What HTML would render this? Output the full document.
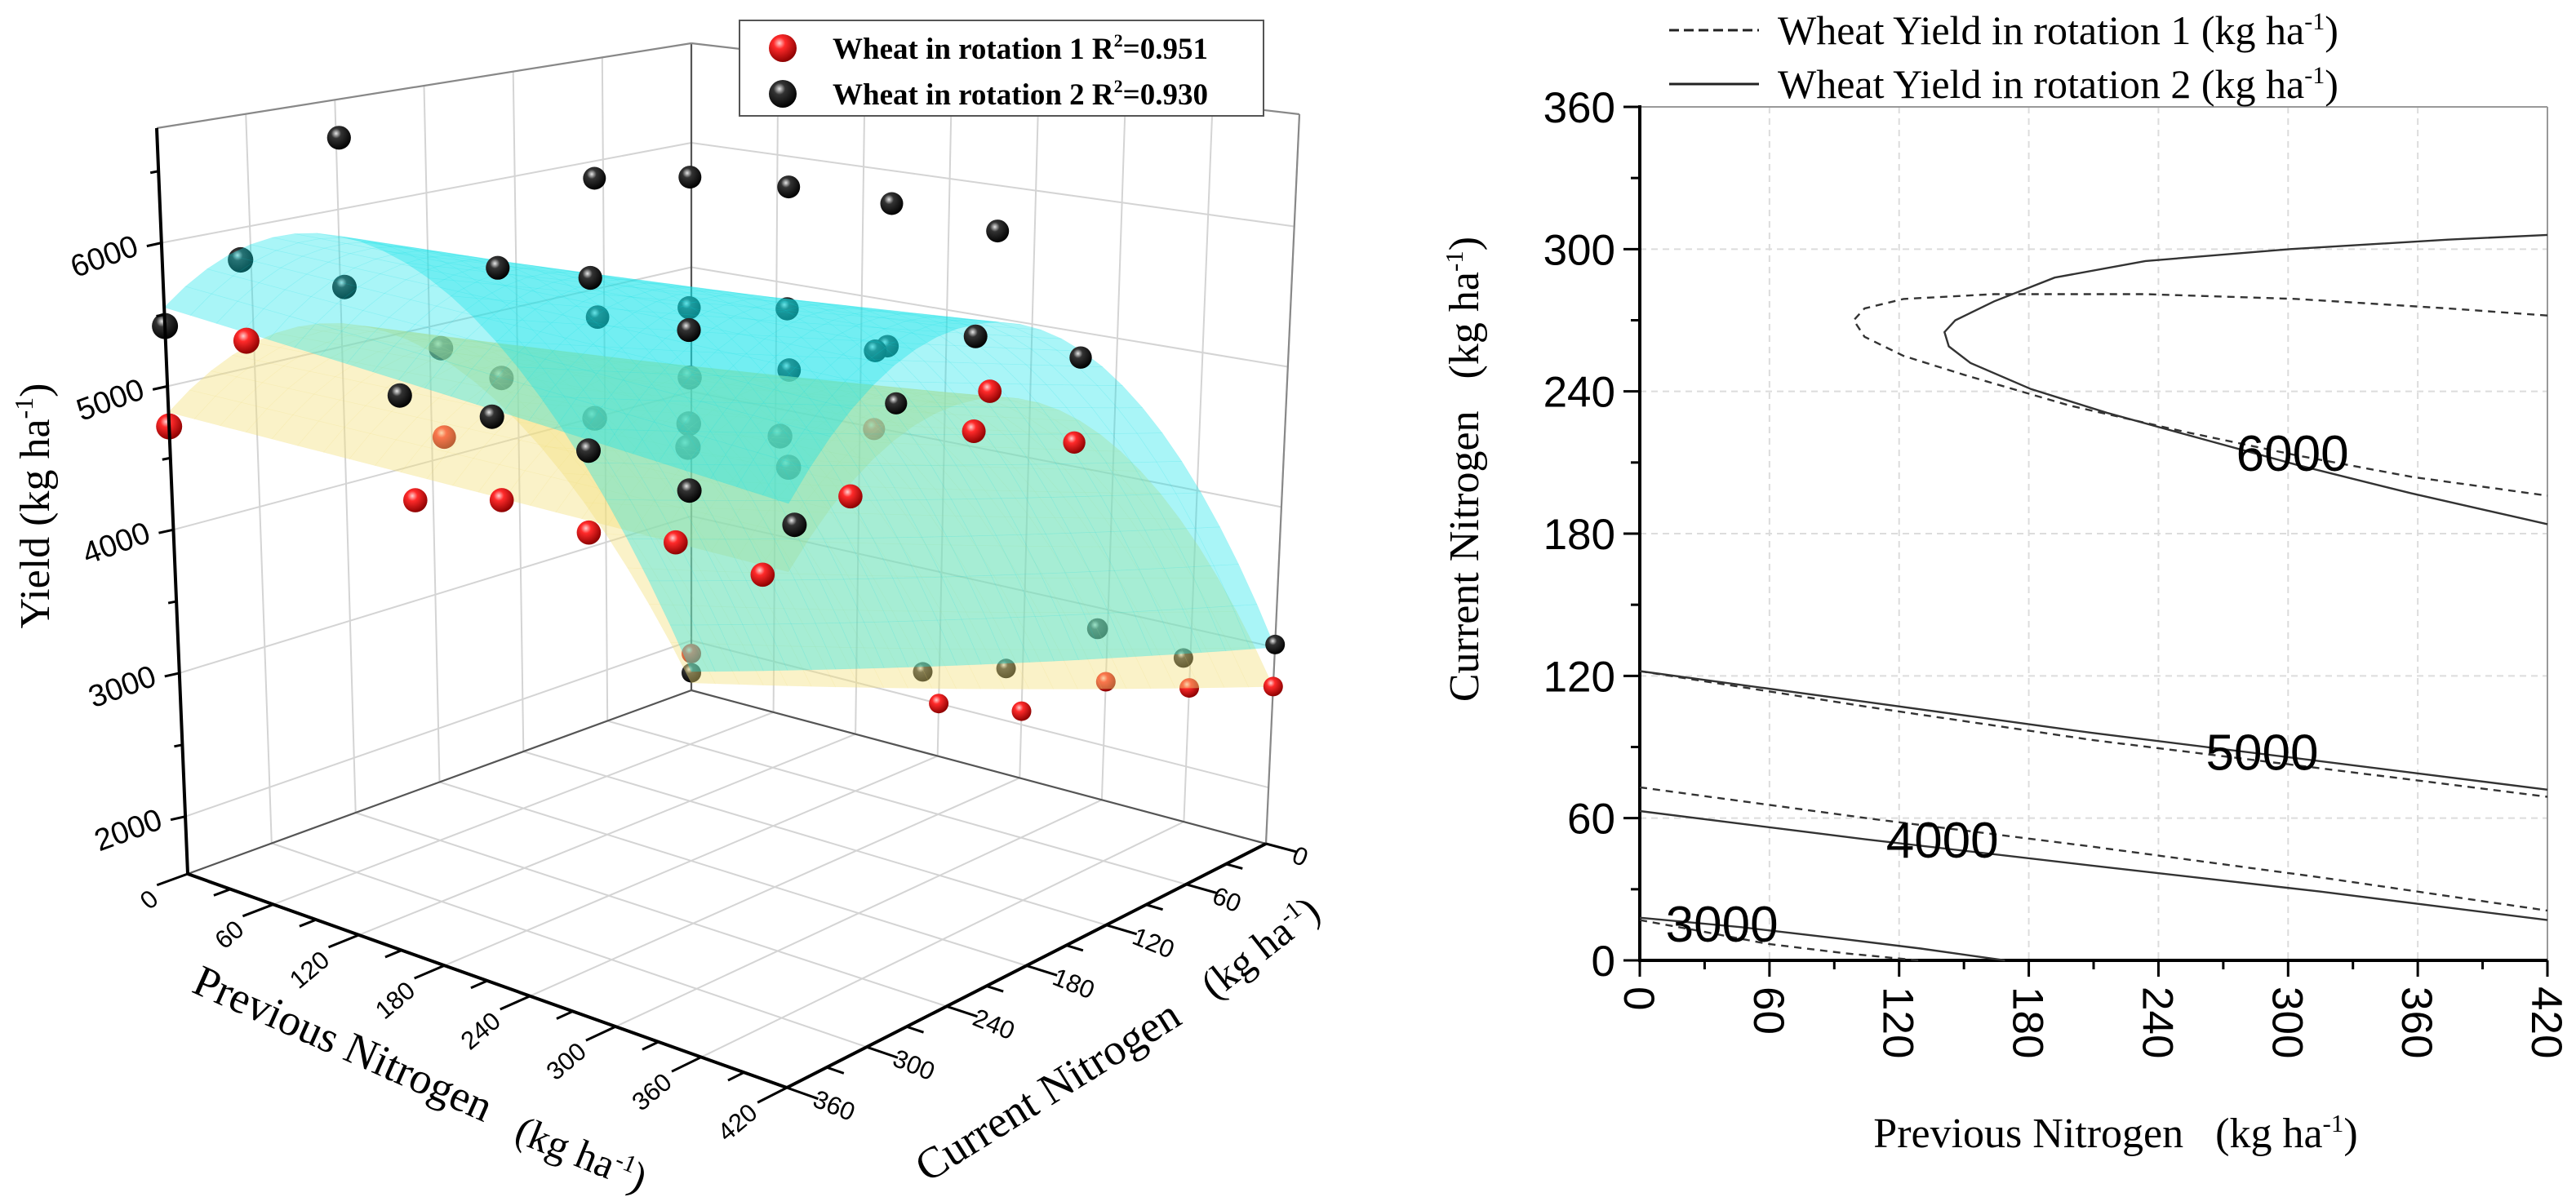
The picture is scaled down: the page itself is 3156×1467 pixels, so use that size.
<!DOCTYPE html>
<html><head><meta charset="utf-8">
<style>
html,body{margin:0;padding:0;background:#fff;}
svg{display:block;}
</style></head>
<body>
<svg id="chart" width="3156" height="1467" viewBox="0 0 3156 1467" xmlns="http://www.w3.org/2000/svg">
<defs>
<radialGradient id="gRed" cx="0.38" cy="0.32" r="0.7">
<stop offset="0" stop-color="#ffd0d0"/><stop offset="0.3" stop-color="#ff2a2a"/><stop offset="1" stop-color="#8a0000"/>
</radialGradient>
<radialGradient id="gBlack" cx="0.38" cy="0.32" r="0.7">
<stop offset="0" stop-color="#e8e8e8"/><stop offset="0.3" stop-color="#333"/><stop offset="1" stop-color="#000"/>
</radialGradient>
</defs>
<rect x="0" y="0" width="3156" height="1467" fill="#fff"/>
</svg>
<script>
// ---------- 3D chart data ----------
const r1Prev   = [0,55,60,120,180,240,300,360,420,420,420,272,45,0,180,240,300,360,420];
const r1Cur    = [360,360,252,252,252,252,252,252,227,216,154,144,216,0,0,0,0,0,0];
const r1Yield  = [4720,5460,4077,4237,4166,4252,4184,4852,5334,5563,5016,4766,4391,1895,2000,2100,2470,2570,2720];
const r1Behind = [0,0,0,0,0,0,0,0,0,0,0,1,1,1,0,0,1,1,0];

const r2Prev   = [0,115,180,247,317,389,0,102,165,232,420,420,69,132,198,267,339,287,420,
                  17,33,98,139,152,197,264,250,283,307,298,284,220,318,346,369,362,168,228,355,0];
const r2Cur    = [238,180,180,180,180,180,360,234,234,234,227,151,270,270,270,270,270,144,0,
                  324,270,270,270,216,198,198,252,216,180,162,288,288,324,288,306,72,0,0,0,0];
const r2Yield  = [6520,6335,6465,6518,6527,6467,5420,5790,5855,5636,5960,5580,4895,4903,4830,4727,4672,4978,3020,
                  5850,5580,5300,5190,5505,5620,5750,5400,5420,5495,5455,5270,5155,5300,5330,5235,3300,2210,2390,2775,1740];
const r2Behind = [0,0,0,0,0,0,0,0,0,0,0,0,0,0,0,0,0,0,0,
                  1,1,1,1,1,1,1,1,1,1,1,1,1,1,1,1,1,1,1,1,1];

// fitted surface coefficients: a + b*P + c*C + d*C^2 + e*P*C
const fit1Coef = [1660, 2.524, 26.33, -0.04877, -0.006746];
const fit2Coef = [1750, 2.976, 29.6, -0.0529, -0.00999];

const zTicks = [2000,3000,4000,5000,6000];
const prevTicks = [0,60,120,180,240,300,360,420];
const curTicks = [0,60,120,180,240,300,360];

// ---------- contour chart data ----------
const xTicks2 = [0,60,120,180,240,300,360,420];
const yTicks2 = [0,60,120,180,240,300,360];
const c2_6000P = [420,374,301,234,192,164,146,141,143,153,181,216,252,304,357,420];
const c2_6000C = [306,304,300,295,288,278,270,265,259,252,241,231,222,209,197,184];
const c2_5000P = [0,105,209,315,420];
const c2_5000C = [122,109,96,84,72];
const c2_4000P = [0,105,209,315,420];
const c2_4000C = [63,51,40,29,17];
const c2_3000P = [0,47,94,130,169];
const c2_3000C = [18,14,9,5,0];
const c1_6000P = [420,374,304,234,164,122,104,99,104,122,150,199,252,304,357,420];
const c1_6000C = [272,275,279,281,281,279,275,270,263,255,247,234,223,213,204,196];
const c1_5000P = [0,105,209,315,420];
const c1_5000C = [122,107,93,81,69];
const c1_4000P = [0,105,209,315,420];
const c1_4000C = [73,60,48,35,21];
const c1_3000P = [0,30,59,95,129];
const c1_3000C = [17,12,7,3,0];
const contourLabels = ["6000","5000","4000","3000"];
const contourLabelP = [302,288,140,38];
const contourLabelC = [214,88,51,15.5];

const NS = "http://www.w3.org/2000/svg";
const svg = document.getElementById('chart');
function mk(tag, attrs, parent){
  const e = document.createElementNS(NS, tag);
  for (const k in attrs) e.setAttribute(k, attrs[k]);
  (parent||svg).appendChild(e);
  return e;
}

// ---------- 3D projection ----------
const zMin = 1600, zMax = 6800;
const BOT = {back:[847,846], right:[1551,1034], left:[230,1071], front:[964,1333]};
const TOP = {back:[847,53], right:[1592,140], left:[192,157], front:[967,324]};
function bil(K, p, c){
  const w0=(1-p)*(1-c), w1=p*(1-c), w2=(1-p)*c, w3=p*c;
  return [K.back[0]*w0+K.right[0]*w1+K.left[0]*w2+K.front[0]*w3,
          K.back[1]*w0+K.right[1]*w1+K.left[1]*w2+K.front[1]*w3];
}
function P3(P, C, V){
  const p=P/420, c=C/360, h=(V-zMin)/(zMax-zMin);
  const b=bil(BOT,p,c), t=bil(TOP,p,c);
  return [b[0]+h*(t[0]-b[0]), b[1]+h*(t[1]-b[1])];
}
function line3(a, b, attrs, parent){
  const A=P3(a[0],a[1],a[2]), B=P3(b[0],b[1],b[2]);
  return mk('line', Object.assign({x1:A[0].toFixed(1),y1:A[1].toFixed(1),x2:B[0].toFixed(1),y2:B[1].toFixed(1)}, attrs), parent);
}

const g3 = mk('g', {});



// grids
const gGrid = mk('g', {stroke:'#d4d4d4','stroke-width':2,fill:'none'}, g3);


for (const v of zTicks){ line3([0,0,v],[0,360,v],{},gGrid); line3([0,0,v],[420,0,v],{},gGrid); }
for (const p of prevTicks){ if(p>0){ line3([p,0,zMin],[p,0,zMax],{},gGrid); } line3([p,0,zMin],[p,360,zMin],{},gGrid); }
for (const c of curTicks){ if(c>0){ line3([0,c,zMin],[0,c,zMax],{},gGrid); } line3([0,c,zMin],[420,c,zMin],{},gGrid); }

// box edges (back)
const gBox = mk('g', {stroke:'#555','stroke-width':2.2}, g3);


line3([0,0,zMin],[0,0,zMax],{},gBox);
line3([420,0,zMin],[420,0,zMax],{stroke:'#888'},gBox);
line3([0,0,zMax],[0,360,zMax],{stroke:'#888'},gBox);
line3([0,0,zMax],[420,0,zMax],{stroke:'#888'},gBox);
line3([0,0,zMin],[0,360,zMin],{},gBox);
line3([0,0,zMin],[420,0,zMin],{},gBox);

function drawPoints(prev, cur, yld, behind, want, grad, name){
  const g = mk('g', {}, g3);
  
  
  const idx = prev.map((_,i)=>i).filter(i=>behind[i]===want);
  idx.sort((a,b)=>(prev[a]/420+cur[a]/360)-(prev[b]/420+cur[b]/360));
  for (const i of idx){
    const q = P3(prev[i], cur[i], yld[i]);
    const r = 12 + 4*(cur[i]/360);
    const s = mk('circle', {cx:q[0].toFixed(1), cy:q[1].toFixed(1), r:r.toFixed(1), fill:'url(#'+grad+')'}, g);
    
    
  }
}
drawPoints(r1Prev, r1Cur, r1Yield, r1Behind, 1, 'gRed', 'rotation1-hidden-points');
drawPoints(r2Prev, r2Cur, r2Yield, r2Behind, 1, 'gBlack', 'rotation2-hidden-points');

function surfVal(k, P, C){ return k[0]+k[1]*P+k[2]*C+k[3]*C*C+k[4]*P*C; }
function drawSurface(k, color, op, name){
  const g = mk('g', {fill:color, 'fill-opacity':op, stroke:color, 'stroke-opacity':op*0.35, 'stroke-width':0.6}, g3);
  
  
  const N=24;
  for (let i=0;i<N;i++){ for (let j=0;j<N;j++){
    const P0=420*i/N, P1=420*(i+1)/N, C0=360*j/N, C1=360*(j+1)/N;
    const pts=[[P0,C0],[P1,C0],[P1,C1],[P0,C1]].map(a=>{
      const v=Math.max(zMin,Math.min(zMax,surfVal(k,a[0],a[1])));
      const q=P3(a[0],a[1],v); return q[0].toFixed(1)+','+q[1].toFixed(1);});
    mk('polygon',{points:pts.join(' ')},g);
  }}
}
drawSurface(fit1Coef, '#f3df7c', 0.42, 'rotation1-fitted-surface');
drawSurface(fit2Coef, '#12e2ea', 0.36, 'rotation2-fitted-surface');

drawPoints(r1Prev, r1Cur, r1Yield, r1Behind, 0, 'gRed', 'rotation1-points');
drawPoints(r2Prev, r2Cur, r2Yield, r2Behind, 0, 'gBlack', 'rotation2-points');

// axes
const gAx = mk('g', {stroke:'#000','stroke-width':4, fill:'none'}, g3);


line3([0,360,zMin],[0,360,zMax],{},gAx);
line3([0,360,zMin],[420,360,zMin],{},gAx);
line3([420,0,zMin],[420,360,zMin],{},gAx);

const gLab = mk('g', {'font-family':'"Liberation Sans", Arial, sans-serif', fill:'#000'}, g3);


// z ticks
for (let v=2000; v<=6500; v+=500){
  const q=P3(0,360,v);
  mk('line',{x1:q[0],y1:q[1],x2:q[0]-(v%1000===0?18:10),y2:q[1]+(v%1000===0?4:2),stroke:'#000','stroke-width':3},gAx);
}
for (const v of zTicks){
  const q=P3(0,360,v);
  const t=mk('text',{x:(q[0]-26).toFixed(1),y:(q[1]+14).toFixed(1),'font-size':38,'text-anchor':'end',transform:'rotate(-20 '+(q[0]-26).toFixed(1)+' '+(q[1]+14).toFixed(1)+')'},gLab);
  t.textContent=v;
  
  
}
// prev ticks
for (let p=0; p<=420; p+=30){
  const a=P3(p,360,zMin), b=P3(p,360+(p%60===0?22:12),zMin);
  mk('line',{x1:a[0],y1:a[1],x2:b[0],y2:b[1],stroke:'#000','stroke-width':3},gAx);
}
for (const p of prevTicks){
  const q=P3(p,360,zMin); const x=q[0]-34, y=q[1]+34;
  const t=mk('text',{x:x.toFixed(1),y:y.toFixed(1),'font-size':31,'text-anchor':'end',transform:'rotate(-40 '+x.toFixed(1)+' '+y.toFixed(1)+')'},gLab);
  t.textContent=p;
  
  
}
// cur ticks
for (let c=0; c<=360; c+=30){
  const a=P3(420,c,zMin), b=P3(420+(c%60===0?22:12),c,zMin);
  mk('line',{x1:a[0],y1:a[1],x2:b[0],y2:b[1],stroke:'#000','stroke-width':3},gAx);
}
for (const c of curTicks){
  const q=P3(420,c,zMin); const x=q[0]+30, y=q[1]+22;
  const t=mk('text',{x:x.toFixed(1),y:y.toFixed(1),'font-size':31,'text-anchor':'start',transform:'rotate(22 '+x.toFixed(1)+' '+y.toFixed(1)+')'},gLab);
  t.textContent=c;
  
  
}
</script>
<svg x="0" y="0" width="3156" height="1467" style="position:absolute;left:0;top:0" xmlns="http://www.w3.org/2000/svg">
<g font-family="'Liberation Serif','Times New Roman',serif" fill="#000">
<text x="60" y="620" font-size="52" text-anchor="middle" transform="rotate(-90 60 620)">Yield (kg ha<tspan font-size="32" dy="-20">-1</tspan><tspan dy="20">)</tspan></text>
<text x="233" y="1215" font-size="54" transform="rotate(24 233 1215)">Previous Nitrogen</text>
<text x="628" y="1398" font-size="50" transform="rotate(22 628 1398)">(kg ha<tspan font-size="30" dy="-18">-1</tspan><tspan dy="18">)</tspan></text>
<text x="1136" y="1450" font-size="54" transform="rotate(-32 1136 1450)">Current Nitrogen</text>
<text x="1488" y="1226" font-size="50" transform="rotate(-38 1488 1226)">(kg ha<tspan font-size="30" dy="-18">-1</tspan><tspan dy="18">)</tspan></text>
</g>
<g>
<rect x="906" y="25" width="642" height="117" fill="#fff" stroke="#555" stroke-width="2"/>
<circle cx="959" cy="59" r="17" fill="url(#gRed)"/>
<circle cx="959" cy="115" r="17" fill="url(#gBlack)"/>
<text x="1020" y="72" font-family="'Liberation Serif',serif" font-weight="bold" font-size="37">Wheat in rotation 1 R<tspan font-size="22" dy="-15">2</tspan><tspan dy="15">=0.951</tspan></text>
<text x="1020" y="128" font-family="'Liberation Serif',serif" font-weight="bold" font-size="37">Wheat in rotation 2 R<tspan font-size="22" dy="-15">2</tspan><tspan dy="15">=0.930</tspan></text>
</g>
</svg>
<svg id="contour" width="3156" height="1467" style="position:absolute;left:0;top:0" xmlns="http://www.w3.org/2000/svg"></svg>
<script>
const csvg = document.getElementById('contour');
function ck(tag, attrs, parent){
  const e=document.createElementNS(NS,tag);
  for(const k in attrs) e.setAttribute(k,attrs[k]);
  (parent||csvg).appendChild(e); return e;
}
const X0=2009, X1=3121, Y0=1177, Y1=131;
function sx(P){ return X0+(P/420)*(X1-X0); }
function sy(C){ return Y0-(C/360)*(Y0-Y1); }

const gG = ck('g',{stroke:'#dcdcdc','stroke-width':2,'stroke-dasharray':'8 6'});


for(const p of xTicks2){ if(p>0&&p<420) ck('line',{x1:sx(p),y1:Y1,x2:sx(p),y2:Y0},gG); }
for(const c of yTicks2){ if(c>0&&c<360) ck('line',{x1:X0,y1:sy(c),x2:X1,y2:sy(c)},gG); }

const frame = ck('g',{fill:'none'});


ck('line',{x1:X0,y1:Y1,x2:X1,y2:Y1,stroke:'#999','stroke-width':2},frame);
ck('line',{x1:X1,y1:Y1,x2:X1,y2:Y0,stroke:'#999','stroke-width':2},frame);
ck('line',{x1:X0,y1:Y1-2,x2:X0,y2:Y0,stroke:'#000','stroke-width':4},frame);
ck('line',{x1:X0-2,y1:Y0,x2:X1,y2:Y0,stroke:'#000','stroke-width':4},frame);

const gT = ck('g',{'font-family':'"Liberation Sans", Arial, sans-serif','font-size':53,fill:'#000'});


for(let c=0;c<=360;c+=30){ const L=c%60===0?20:11; ck('line',{x1:X0-L,y1:sy(c),x2:X0,y2:sy(c),stroke:'#000','stroke-width':3},frame); }
for(let p=0;p<=420;p+=30){ const L=p%60===0?20:11; ck('line',{x1:sx(p),y1:Y0,x2:sx(p),y2:Y0+L,stroke:'#000','stroke-width':3},frame); }
for(const c of yTicks2){
  const t=ck('text',{x:X0-30,y:sy(c)+19,'text-anchor':'end'},gT);
  t.textContent=c;
  
  
}
for(const p of xTicks2){
  const x=sx(p)-19, y=Y0+32;
  const t=ck('text',{x:x,y:y,'text-anchor':'start',transform:'rotate(90 '+x+' '+y+')'},gT);
  t.textContent=p;
  
  
}

function contour(P, C, dashed, name){
  const d=P.map((p,i)=>(i?'L':'M')+sx(p).toFixed(1)+','+sy(C[i]).toFixed(1)).join(' ');
  const e=ck('path',{d:d,fill:'none',stroke:'#333','stroke-width':2.4,'stroke-dasharray':dashed?'9 7':'none'});
  
  
}
contour(c1_6000P,c1_6000C,true,'rotation1-contour-6000');
contour(c1_5000P,c1_5000C,true,'rotation1-contour-5000');
contour(c1_4000P,c1_4000C,true,'rotation1-contour-4000');
contour(c1_3000P,c1_3000C,true,'rotation1-contour-3000');
contour(c2_6000P,c2_6000C,false,'rotation2-contour-6000');
contour(c2_5000P,c2_5000C,false,'rotation2-contour-5000');
contour(c2_4000P,c2_4000C,false,'rotation2-contour-4000');
contour(c2_3000P,c2_3000C,false,'rotation2-contour-3000');

const gCL = ck('g',{'font-family':'"Liberation Sans", Arial, sans-serif','font-size':62,fill:'#000','text-anchor':'middle'});


contourLabels.forEach((s,i)=>{
  const t=ck('text',{x:sx(contourLabelP[i]).toFixed(1),y:(sy(contourLabelC[i])+22).toFixed(1)},gCL);
  t.textContent=s;
  
  
});
</script>
<svg width="3156" height="1467" style="position:absolute;left:0;top:0" xmlns="http://www.w3.org/2000/svg">
<g font-family="'Liberation Serif','Times New Roman',serif" font-size="50" fill="#000">
<line x1="2045" y1="37" x2="2155" y2="37" stroke="#222" stroke-width="3" stroke-dasharray="12 6"/>
<text x="2178" y="54">Wheat Yield in rotation 1 (kg ha<tspan font-size="30" dy="-18">-1</tspan><tspan dy="18">)</tspan></text>
<line x1="2045" y1="103" x2="2155" y2="103" stroke="#222" stroke-width="3"/>
<text x="2178" y="120">Wheat Yield in rotation 2 (kg ha<tspan font-size="30" dy="-18">-1</tspan><tspan dy="18">)</tspan></text>
<text x="2592" y="1406" font-size="52" text-anchor="middle">Previous Nitrogen&#160;&#160;&#160;(kg ha<tspan font-size="31" dy="-19">-1</tspan><tspan dy="19">)</tspan></text>
<text x="1811" y="575" font-size="52" text-anchor="middle" transform="rotate(-90 1811 575)">Current Nitrogen&#160;&#160;&#160;(kg ha<tspan font-size="31" dy="-19">-1</tspan><tspan dy="19">)</tspan></text>
</g>
</svg>
</body></html>
